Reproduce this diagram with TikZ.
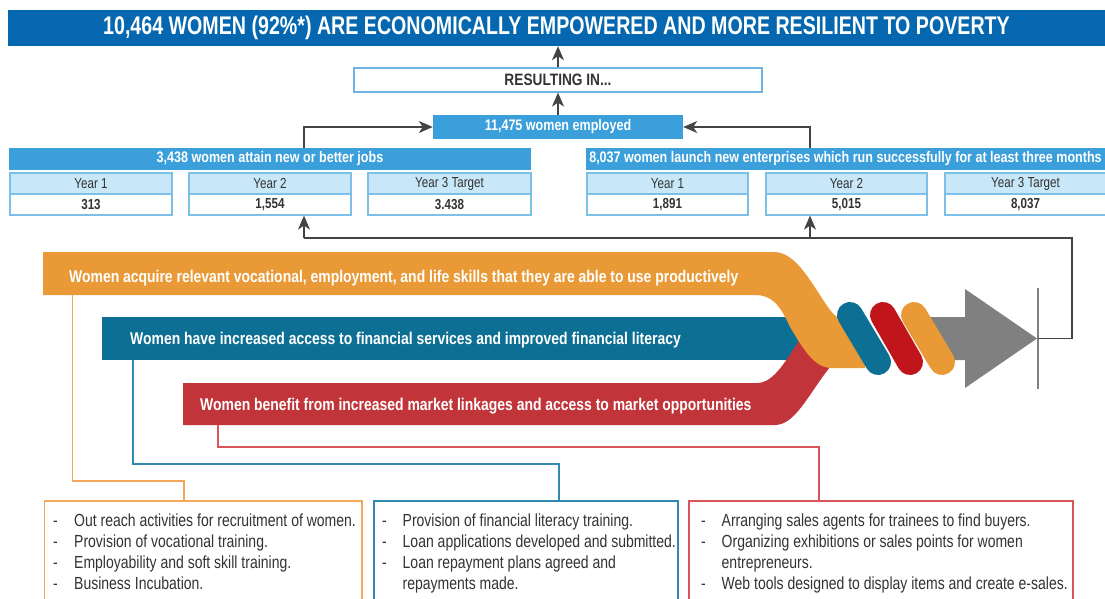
\documentclass[tikz,border=0pt]{standalone}
\usepackage{fontspec}
\setmainfont{Liberation Sans}[FakeStretch=0.8]
\newfontfamily\fA{Liberation Sans}[FakeStretch=0.77]
\newfontfamily\fB{Liberation Sans}[FakeStretch=0.82]
\newfontfamily\fC{Liberation Sans}[FakeStretch=0.83]
\usetikzlibrary{arrows.meta}
\definecolor{titleblue}{HTML}{0567B0}
\definecolor{lblue}{HTML}{3A9FDA}
\definecolor{cellfill}{HTML}{C8E7F8}
\definecolor{cellborder}{HTML}{7CC0E8}
\definecolor{resborder}{HTML}{6DB4E2}
\definecolor{orangeC}{HTML}{E99A37}
\definecolor{tealC}{HTML}{0D6F94}
\definecolor{redband}{HTML}{C1353A}
\definecolor{redcap}{HTML}{C0161B}
\definecolor{grayA}{HTML}{808080}
\definecolor{connC}{HTML}{444444}
\definecolor{oLineC}{HTML}{F2A75C}
\definecolor{bLineC}{HTML}{3089B0}
\definecolor{rLineC}{HTML}{D9555B}
\definecolor{textdark}{HTML}{333333}
\tikzset{
 conn/.style={draw=connC, line width=1.4pt, -{Stealth[length=14pt,width=12pt,inset=4pt]}},
 plainline/.style={draw=connC, line width=1.4pt},
 hbox/.style={fill=lblue, inner sep=0pt, text=white, font=\fB\fontsize{15.3}{18}\selectfont\bfseries},
 cellh/.style={draw=cellborder, line width=1.2pt, fill=cellfill, inner sep=0pt, minimum height=21pt, text=textdark, font=\fontsize{14.5}{17}\selectfont},
 cellv/.style={draw=cellborder, line width=1.2pt, fill=white, inner sep=0pt, minimum height=21pt, text=textdark, font=\fontsize{14.5}{17}\selectfont\bfseries},
 bandtext/.style={text=white, anchor=base west, inner sep=0pt, font=\fB\fontsize{17}{20}\selectfont\bfseries},
 actbox/.style={line width=1.5pt, anchor=north west, inner sep=0pt, fill=white},
 acttext/.style={anchor=north west, inner sep=0pt, text=textdark, font=\fontsize{17.5}{21}\selectfont},
 capsule/.style={line width=26pt, line cap=round},
}
\begin{document}
\begin{tikzpicture}[x=1pt,y=-1pt]
\useasboundingbox (0,0) rectangle (1105,599);
% title
\node[fill=titleblue, minimum width=1097pt, minimum height=36pt, inner sep=0pt, text=white, font=\fA\fontsize{25.5}{28}\selectfont\bfseries] (title) at (556.5,28) {10,464 WOMEN (92\%*) ARE ECONOMICALLY EMPOWERED AND MORE RESILIENT TO POVERTY};
\node[draw=resborder, line width=1.2pt, fill=white, minimum width=408pt, minimum height=24pt, inner sep=0pt, text=textdark, font=\fC\fontsize{16.5}{18}\selectfont\bfseries] (res) at (558,80) {RESULTING IN...};
\node[hbox, minimum width=250pt, minimum height=24pt] (emp) at (558,127) {11,475 women employed};
\node[hbox, minimum width=522pt, minimum height=22pt] (lhead) at (270,159) {3,438 women attain new or better jobs};
\node[hbox, minimum width=519pt, minimum height=22pt] (rhead) at (845.5,159) {8,037 women launch new enterprises which run successfully for at least three months};
% cells
\node[cellh, minimum width=162pt] (l1h) at (91,183.5) {Year 1};
\node[cellv, minimum width=162pt] (l1v) at (91,204.5) {313};
\node[cellh, minimum width=162pt] (l2h) at (270,183.5) {Year 2};
\node[cellv, minimum width=162pt] (l2v) at (270,204.5) {1,554};
\node[cellh, minimum width=163pt] (l3h) at (449.5,183.5) {Year 3 Target};
\node[cellv, minimum width=163pt] (l3v) at (449.5,204.5) {3.438};
\node[cellh, minimum width=161pt] (r1h) at (667.5,183.5) {Year 1};
\node[cellv, minimum width=161pt] (r1v) at (667.5,204.5) {1,891};
\node[cellh, minimum width=161pt] (r2h) at (846.5,183.5) {Year 2};
\node[cellv, minimum width=161pt] (r2v) at (846.5,204.5) {5,015};
\node[cellh, minimum width=161pt] (r3h) at (1025.5,183.5) {Year 3 Target};
\node[cellv, minimum width=161pt] (r3v) at (1025.5,204.5) {8,037};
% top arrows
\draw[conn] (res.north) -- (res.north |- title.south);
\draw[conn] (emp.north) -- (res.south);
\draw[conn] ([xshift=34pt]lhead.north) |- (emp.west);
\draw[conn] ([xshift=-35.5pt]rhead.north) |- (emp.east);
% bands
\fill[tealC] (102,317) rectangle (848,360);
\fill[redband] (183,383) -- (757,383) .. controls (775,383) and (787,358) .. (805,332) -- (840,330) -- (840,365) -- (830,367) .. controls (808,395) and (795,425) .. (775,425) -- (183,425) -- cycle;
\fill[orangeC] (43,252) -- (774,252) .. controls (797,252) and (812,285) .. (830,310) .. controls (840,322) and (848,325) .. (865,325) -- (865,368) -- (832,368) .. controls (815,368) and (805,352) .. (790,327) .. controls (780,305) and (772,295) .. (755,295) -- (43,295) -- cycle;
\fill[grayA] (930,317) -- (965,317) -- (965,289) -- (1037,338.5) -- (965,388) -- (965,360) -- (930,360) -- cycle;
\draw[tealC, capsule] (850,315) -- (878,362);
\draw[redcap, capsule] (883,315) -- (910,362);
\draw[orangeC, capsule] (914,315) -- (942,362);
\node[bandtext] (t1) at (69,282) {Women acquire relevant vocational, employment, and life skills that they are able to use productively};
\node[bandtext] (t2) at (130,344) {Women have increased access to financial services and improved financial literacy};
\node[bandtext] (t3) at (200,410.5) {Women benefit from increased market linkages and access to market opportunities};
% feedback connector
\coordinate (tip) at (1038,338.5);
\coordinate (corner) at (1072,238);
\draw[grayA, line width=1.3pt] (1038,288) -- (1038,389);
\draw[plainline] (tip) -| (corner) -- ([xshift=34pt]l2v.south |- corner);
\draw[conn] ([xshift=34pt]l2v.south |- corner) -- ([xshift=34pt]l2v.south);
\draw[conn] ([xshift=-36.5pt]r2v.south |- corner) -- ([xshift=-36.5pt]r2v.south);
% activity boxes
\node[actbox, draw=oLineC, minimum width=317.5pt, minimum height=120pt] (obox) at (43.5,500) {};
\node[actbox, draw=bLineC, minimum width=304pt, minimum height=120pt] (bbox) at (373,500) {};
\node[actbox, draw=rLineC, minimum width=384pt, minimum height=120pt] (rbox) at (688,500) {};
\coordinate (ob) at (72.5,295);
\coordinate (oj) at (184,481);
\coordinate (bb) at (133,360);
\coordinate (bj) at (559,464);
\coordinate (rb) at (218,425);
\coordinate (rj) at (819,447);
\draw[oLineC, line width=1.5pt] (ob) |- (oj) -- (oj |- obox.north);
\draw[bLineC, line width=1.5pt] (bb) |- (bj) -- (bj |- bbox.north);
\draw[rLineC, line width=1.5pt] (rb) |- (rj) -- (rj |- rbox.north);
\node[acttext] (otext) at (53,512) {\begin{tabular}{@{}p{21pt}@{}l@{}}-&Out reach activities for recruitment of women.\\-&Provision of vocational training.\\-&Employability and soft skill training.\\-&Business Incubation.\end{tabular}};
\node[acttext] (btext) at (382,512) {\begin{tabular}{@{}p{20.5pt}@{}l@{}}-&Provision of financial literacy training.\\-&Loan applications developed and submitted.\\-&Loan repayment plans agreed and\\&repayments made.\end{tabular}};
\node[acttext] (rtext) at (701,512) {\begin{tabular}{@{}p{20.5pt}@{}l@{}}-&Arranging sales agents for trainees to find buyers.\\-&Organizing exhibitions or sales points for women\\&entrepreneurs.\\-&Web tools designed to display items and create e-sales.\end{tabular}};
\end{tikzpicture}
\end{document}
